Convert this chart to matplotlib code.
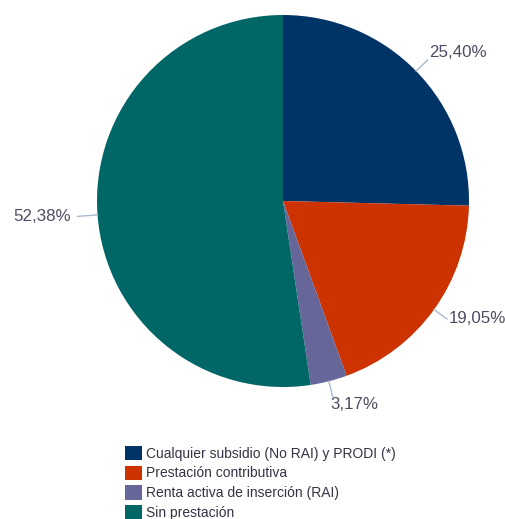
import numpy as np
import matplotlib
matplotlib.use("Agg")
import matplotlib.pyplot as plt

plt.rcParams['font.family'] = ['Liberation Sans', 'DejaVu Sans']

categories = ['Cualquier subsidio (No RAI) y PRODI (*)',
              'Prestación contributiva',
              'Renta activa de inserción (RAI)',
              'Sin prestación']
values = [25.40, 19.05, 3.17, 52.38]
value_labels = ['25,40%', '19,05%', '3,17%', '52,38%']
colours = ['#003366', '#CC3300', '#666699', '#006666']

W, H = 506, 519
CX, CY, R = 283, H - 201, 186

fig = plt.figure(figsize=(W / 100, H / 100), dpi=100)
ax = fig.add_axes([0, 0, 1, 1])

wedges, _ = ax.pie(values, colors=colours, startangle=90, counterclock=False,
                   center=(CX, CY), radius=R, frame=True,
                   wedgeprops=dict(linewidth=0))
ax.set_xlim(0, W)
ax.set_ylim(0, H)
ax.set_aspect('equal')
ax.axis('off')

for w, lab in zip(wedges, value_labels):
    ang = np.deg2rad((w.theta1 + w.theta2) / 2)
    c, s = np.cos(ang), np.sin(ang)
    leader = 16 if c > 0 else 20
    x0, y0 = CX + R * c, CY + R * s
    x1, y1 = CX + (R + leader) * c, CY + (R + leader) * s
    ax.plot([x0, x1], [y0, y1], color='#a9b8d0', lw=1)
    ha = 'left' if c > 0 else 'right'
    dx = 2 if c > 0 else -7
    if s < -0.9:
        va = 'top'
        dx = -2
    elif s > 0.6:
        va = 'bottom'
    else:
        va = 'center'
    ax.text(x1 + dx, y1, lab, ha=ha, va=va, fontsize=12.2,
            color='#4d4d61')

leg = ax.legend(wedges, categories, loc='upper left',
                bbox_to_anchor=(125 / W, 1 - 446 / H), frameon=False,
                fontsize=10, handlelength=1.2, handleheight=1.2,
                handletextpad=0.3, labelspacing=0.35, borderpad=0,
                borderaxespad=0)
for t in leg.get_texts():
    t.set_color('#333344')

fig.savefig('out.png', dpi=100)
